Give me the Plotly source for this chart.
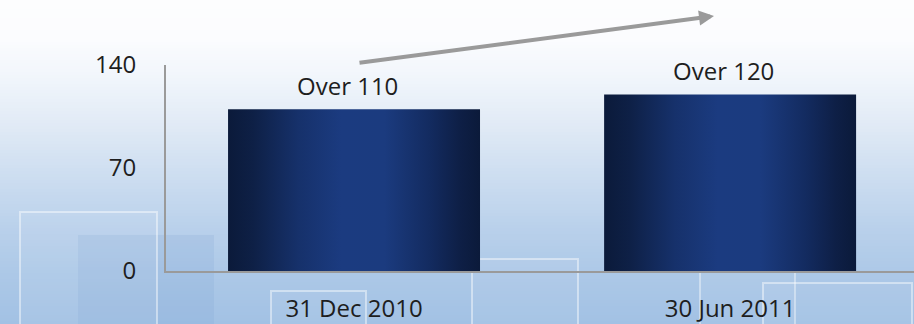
import plotly.graph_objects as go

# ---- data -------------------------------------------------------------
categories = ["31 Dec 2010", "30 Jun 2011"]
values = [110, 120]
value_labels = ["Over 110", "Over 120"]
y_ticks = [0, 70, 140]

# ---- canvas / style -----------------------------------------------------
W, H = 914, 324
BAR_WIDTH = 0.67
FONT = "Open Sans"
TEXT_COLOR = "#1e1e1e"
AXIS_COLOR = "#9a9a9a"

BAR_SCALE = [
    [0.00, "#0b1a3a"],
    [0.10, "#0e2046"],
    [0.28, "#16316b"],
    [0.45, "#1b3b80"],
    [0.62, "#1b3b7f"],
    [0.80, "#132b60"],
    [0.92, "#0e1f46"],
    [1.00, "#0b1a3a"],
]

# sky backdrop: (fraction from top, rgb)
BG_STOPS = [
    (0.00, (253, 253, 254)),
    (0.12, (251, 252, 254)),
    (0.25, (240, 245, 251)),
    (0.40, (223, 233, 245)),
    (0.55, (204, 221, 240)),
    (0.70, (186, 209, 235)),
    (0.85, (172, 200, 231)),
    (1.00, (162, 193, 228)),
]


def bg_color(t):
    for (t0, c0), (t1, c1) in zip(BG_STOPS, BG_STOPS[1:]):
        if t0 <= t <= t1:
            f = (t - t0) / (t1 - t0)
            r, g, b = (round(a + (b_ - a) * f) for a, b_ in zip(c0, c1))
            return f"rgb({r},{g},{b})"
    r, g, b = BG_STOPS[-1][1]
    return f"rgb({r},{g},{b})"


def px(x, y):
    """pixel position -> paper fraction (margins are zero)"""
    return x / W, 1 - y / H


shapes = []
N_STRIPS = 108
for i in range(N_STRIPS):
    shapes.append(dict(
        type="rect", xref="paper", yref="paper", layer="below",
        x0=0, x1=1, y0=1 - i / N_STRIPS, y1=1 - (i + 1) / N_STRIPS - 0.002,
        fillcolor=bg_color((i + 0.5) / N_STRIPS), line=dict(width=0),
    ))

# faint building silhouettes in the backdrop
blocks = [
    # (x0, y0, x1, y1, fill, outline)
    (78, 235, 214, 330, "rgba(120,160,212,0.18)", None),
    (20, 212, 157, 330, "rgba(255,255,255,0.06)", "rgba(255,255,255,0.45)"),
    (271, 291, 366, 330, "rgba(255,255,255,0.05)", "rgba(255,255,255,0.45)"),
    (472, 259, 578, 330, "rgba(255,255,255,0.05)", "rgba(255,255,255,0.45)"),
    (700, 250, 795, 330, "rgba(255,255,255,0.04)", "rgba(255,255,255,0.4)"),
    (763, 283, 912, 330, "rgba(255,255,255,0.05)", "rgba(255,255,255,0.45)"),
]
for x0, y0, x1, y1, fill, outline in blocks:
    a0, b0 = px(x0, y0)
    a1, b1 = px(x1, y1)
    shapes.append(dict(
        type="rect", xref="paper", yref="paper", layer="below",
        x0=a0, x1=a1, y0=b1, y1=b0, fillcolor=fill,
        line=dict(width=2 if outline else 0, color=outline or "rgba(0,0,0,0)"),
    ))

fig = go.Figure()

# bars: each column is a filled rectangle with a horizontal shading
for i, (cat, v) in enumerate(zip(categories, values)):
    left, right = i - BAR_WIDTH / 2, i + BAR_WIDTH / 2
    fig.add_trace(go.Scatter(
        x=[left, left, right, right, left],
        y=[0, v, v, 0, 0],
        mode="lines", line=dict(width=0),
        fill="toself",
        fillgradient=dict(type="horizontal", colorscale=BAR_SCALE),
        name=cat, hoverinfo="skip", showlegend=False,
    ))

annotations = []
for i, (v, lab) in enumerate(zip(values, value_labels)):
    annotations.append(dict(
        x=i, y=v, xref="x", yref="y", text=lab, showarrow=False,
        xanchor="center", yanchor="bottom", xshift=-7, yshift=5,
        font=dict(family=FONT, size=24, color=TEXT_COLOR),
    ))

# growth arrow over the two columns
tip_x, tip_y = px(714, 16)
annotations.append(dict(
    x=tip_x, y=tip_y, xref="paper", yref="paper",
    ax=358 - 714, ay=63 - 16, axref="pixel", ayref="pixel",
    text="", showarrow=True, arrowhead=2, arrowsize=0.75,
    arrowwidth=4, arrowcolor=AXIS_COLOR,
))

fig.update_layout(
    width=W, height=H,
    margin=dict(l=0, r=0, t=0, b=0, autoexpand=False),
    paper_bgcolor="#ffffff", plot_bgcolor="rgba(0,0,0,0)",
    shapes=shapes, annotations=annotations,
    xaxis=dict(
        domain=[166 / W, 1.0], range=[-0.5, 1.489],
        tickvals=list(range(len(categories))), ticktext=categories,
        showgrid=False, zeroline=False, automargin=False,
        showline=True, linecolor=AXIS_COLOR, linewidth=2,
        ticks="", ticklabelstandoff=15,
        tickfont=dict(family=FONT, size=24, color=TEXT_COLOR),
        fixedrange=True,
    ),
    yaxis=dict(
        domain=[53 / H, 259 / H], range=[0, 140],
        tickvals=y_ticks,
        showgrid=False, zeroline=False, automargin=False,
        showline=True, linecolor=AXIS_COLOR, linewidth=2,
        ticks="", ticklabelstandoff=23,
        tickfont=dict(family=FONT, size=24, color=TEXT_COLOR),
        fixedrange=True,
    ),
    showlegend=False,
)

fig.write_html("out.html")
